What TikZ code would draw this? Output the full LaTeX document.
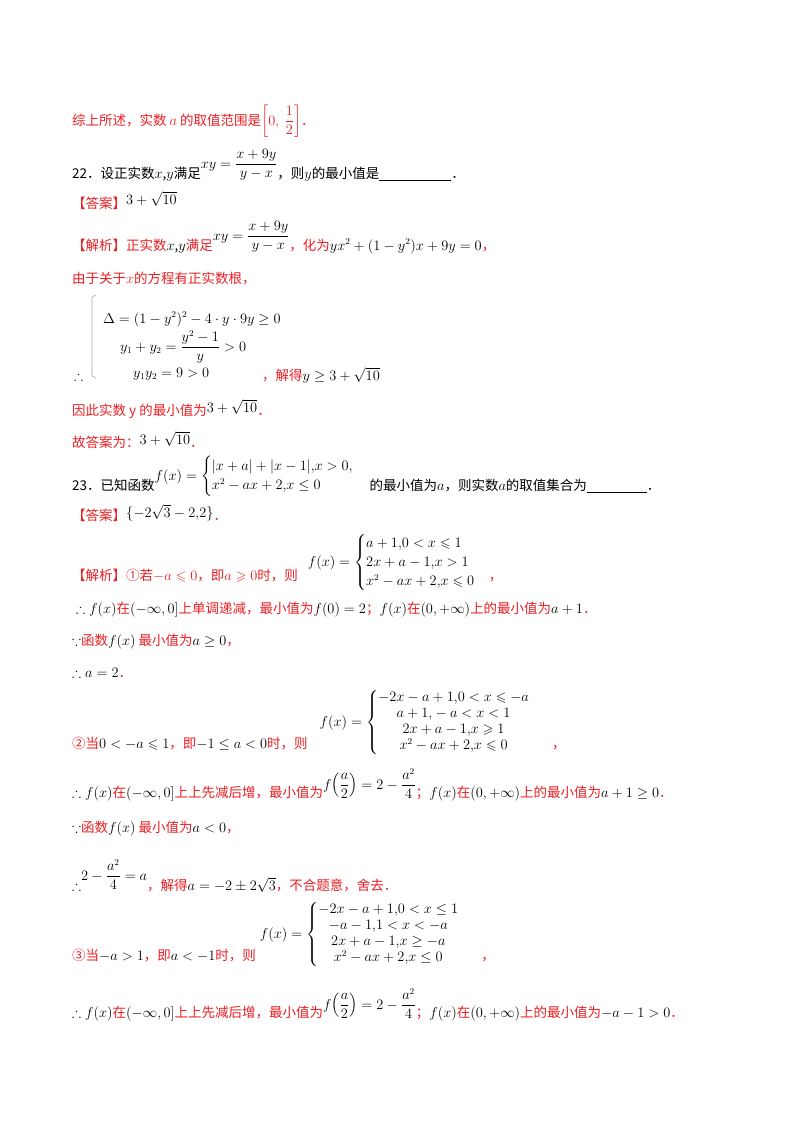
\documentclass[tikz,border=0pt]{standalone}
\usepackage{amsmath,amssymb}
\usepackage{fontspec}
\setmainfont{Noto Sans CJK SC}
\definecolor{rd}{RGB}{235,30,35}
\newcommand\R[1]{\textcolor{rd}{#1}}
\newcommand\up[2]{\raisebox{#1}{$#2$}}
\newcommand\cm{{,}}
\begin{document}
\begin{tikzpicture}[x=1pt,y=-1pt,
  t/.style={anchor=base west,inner sep=0pt,font=\fontsize{13.5}{16}\selectfont}]
\useasboundingbox (0,0) rectangle (800,1132);
\node[t] (l1) at (72,125) {\R{综上所述，实数 $a$ 的取值范围是$\left[0,\ \dfrac12\right]$．}};
\node[t] (l2) at (72,178) {22．设正实数$x$,$y$满足\up{10pt}{xy=\dfrac{x+9y}{y-x}}，则$y$的最小值是\underline{\hspace{72pt}}．};
\node[t] (l3) at (72,208) {\R{【答案】}\up{4pt}{3+\sqrt{10}}};
\node[t] (l4) at (72,250) {\R{【解析】正实数}$x$,$y$\R{满足}\up{10pt}{xy=\dfrac{x+9y}{y-x}}\R{，化为}$yx^2+(1-y^2)x+9y=0$\R{，}};
\node[t] (l5) at (72,283) {\R{由于关于$x$的方程有正实数根，}};
\draw[gray!70,line width=0.6pt] (96,295) -- (92,297) -- (92,376) -- (96,378);
\node[t] (s1) at (103,323) {$\Delta=(1-y^2)^2-4\cdot y\cdot 9y\ge 0$};
\node[t] (s2) at (120,351) {$y_1+y_2=\dfrac{y^2-1}{y}>0$};
\node[t] (s3) at (133,377) {$y_1y_2=9>0$};
\node[t] (th) at (74,380) {$\therefore$};
\node[t] (s4) at (262,380) {\R{，解得}$y\ge 3+\sqrt{10}$};
\node[t] (l6) at (72,415) {\R{因此实数 y 的最小值为}\up{3pt}{3+\sqrt{10}}\R{．}};
\node[t] (l7) at (72,447) {\R{故答案为：}\up{3pt}{3+\sqrt{10}}\R{．}};
\node[t] (l8) at (72,490) {23．已知函数\up{10pt}{f(x)=\begin{cases}|x+a|+|x-1|\cm x>0\cm\\ x^2-ax+2\cm x\le 0\end{cases}}\,的最小值为$a$，则实数$a$的取值集合为\underline{\hspace{60pt}}．};
\node[t] (l9) at (72,520) {\R{【答案】}\up{3pt}{\{-2\sqrt3-2\cm2\}}\R{．}};
\node[t] (l10) at (72,580) {\R{【解析】①若$-a\leqslant0$，即$a\geqslant0$时，则}\hspace{10pt}\up{14pt}{f(x)=\begin{cases}a+1\cm0<x\leqslant1\\2x+a-1\cm x>1\\x^2-ax+2\cm x\leqslant0\end{cases}}\R{，}};
\node[t] (l11) at (76,613) {$\therefore f(x)$\R{在}$(-\infty,0]$\R{上单调递减，最小值为}$f(0)=2$\R{；}$f(x)$\R{在}$(0,+\infty)$\R{上的最小值为}$a+1$\R{．}};
\node[t] (l12) at (72,645) {$\because$\R{函数}$f(x)$\ \R{最小值为}$a\ge0$\R{，}};
\node[t] (l13) at (72,677) {$\therefore a=2$\R{．}};
\node[t] (l14) at (72,748) {\R{②当}$0<-a\leqslant1$\R{，即}$-1\le a<0$\R{时，则}\hspace{12pt}\up{22pt}{f(x)=\left\{\begin{matrix}-2x-a+1\cm0<x\leqslant-a\\a+1\cm-a<x<1\\2x+a-1\cm x\geqslant1\\x^2-ax+2\cm x\leqslant0\end{matrix}\right.}\hspace{22pt}\R{，}};
\node[t] (l15) at (72,797) {$\therefore f(x)$\R{在}$(-\infty,0]$\R{上上先减后增，最小值为}\up{8pt}{f\!\left(\dfrac a2\right)=2-\dfrac{a^2}{4}}\R{；}$f(x)$\R{在}$(0,+\infty)$\R{上的最小值为}$a+1\ge0$\R{．}};
\node[t] (l16) at (72,832) {$\because$\R{函数}$f(x)$\ \R{最小值为}$a<0$\R{，}};
\node[t] (l17) at (72,890) {$\therefore$\up{10pt}{2-\dfrac{a^2}{4}=a}\R{，解得}$a=-2\pm2\sqrt3$\R{，不合题意，舍去．}};
\node[t] (l18) at (72,960) {\R{③当}$-a>1$\R{，即}$a<-1$\R{时，则}\hspace{4pt}\up{22pt}{f(x)=\left\{\begin{matrix}-2x-a+1\cm0<x\le1\\-a-1\cm1<x<-a\\2x+a-1\cm x\ge-a\\x^2-ax+2\cm x\le0\end{matrix}\right.}\hspace{22pt}\R{，}};
\node[t] (l19) at (72,1017) {$\therefore f(x)$\R{在}$(-\infty,0]$\R{上上先减后增，最小值为}\up{8pt}{f\!\left(\dfrac a2\right)=2-\dfrac{a^2}{4}}\R{；}$f(x)$\R{在}$(0,+\infty)$\R{上的最小值为}$-a-1>0$\R{．}};
\end{tikzpicture}
\end{document}
